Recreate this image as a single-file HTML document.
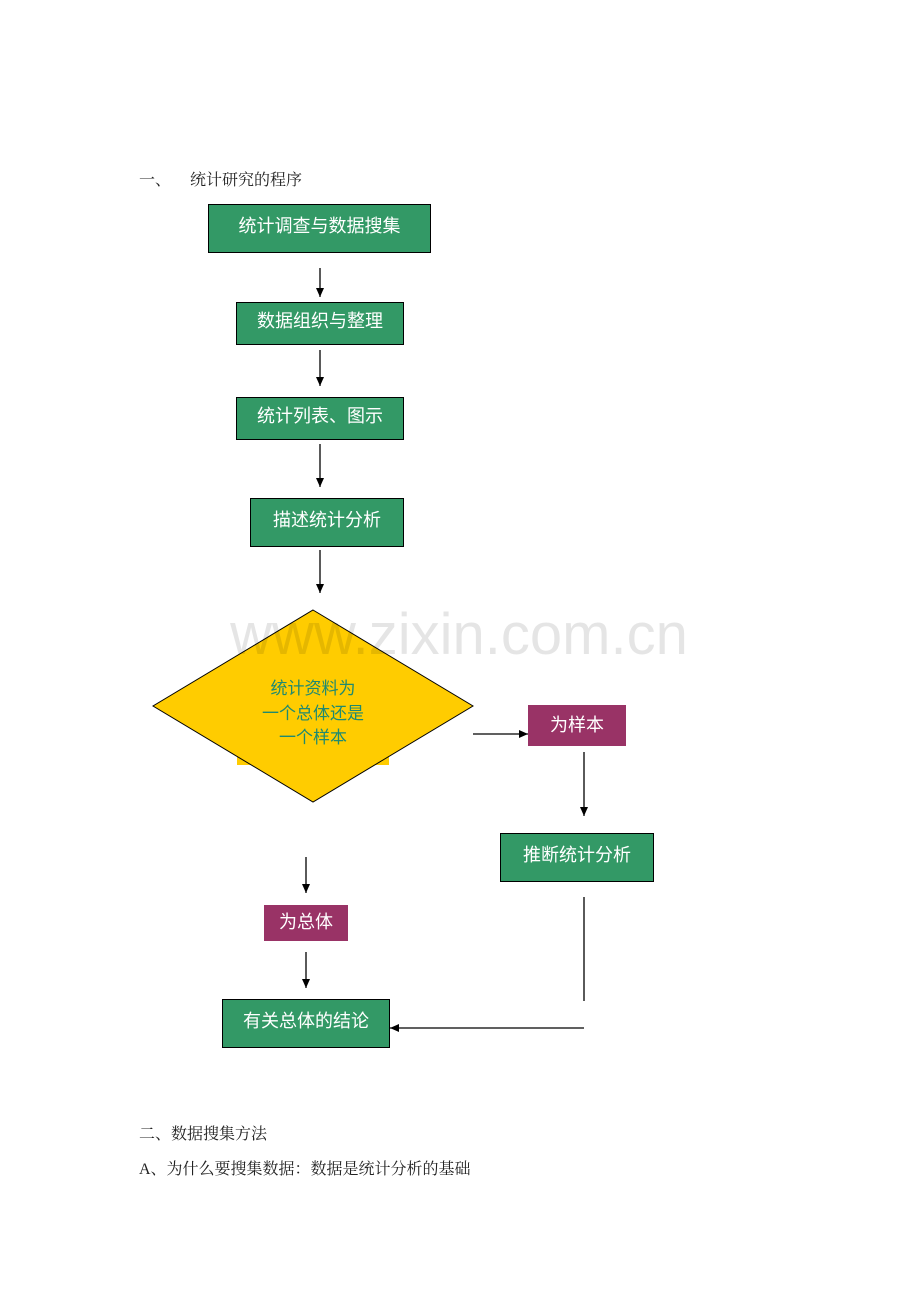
<!DOCTYPE html>
<html><head><meta charset="utf-8"><style>
body{margin:0;width:920px;height:1302px;background:#fff;position:relative;overflow:hidden;font-family:"Liberation Serif","Noto Serif CJK SC",serif;}
.t{position:absolute;font-size:16px;color:#222;white-space:nowrap;}
.b{position:absolute;box-sizing:border-box;border:1px solid #000;background:#339966;color:#fff;font-family:"Liberation Sans","Noto Sans CJK SC",sans-serif;font-size:18px;display:flex;align-items:center;justify-content:center;padding-bottom:7px;}
.p{background:#993366;border:none;padding-bottom:4px;}
</style></head><body>
<div class="t" style="left:139px;top:167px">一、</div>
<div class="t" style="left:190px;top:167px">统计研究的程序</div>
<div class="t" style="left:139px;top:1121px">二、数据搜集方法</div>
<div class="t" style="left:139px;top:1156px">A、为什么要搜集数据：数据是统计分析的基础</div>
<svg width="920" height="1302" style="position:absolute;left:0;top:0">
<defs><marker id="a" markerWidth="10" markerHeight="10" refX="9" refY="5" orient="auto" markerUnits="userSpaceOnUse"><path d="M0,1 L9,5 L0,9 z" fill="#000"/></marker></defs>
<rect x="237" y="748" width="152" height="17" fill="#ffcc00"/>
<polygon points="313,610 473,706 313,802 153,706" fill="#ffcc00" stroke="#000" stroke-width="1"/>
<text x="313" y="694" font-size="17" fill="#1f8a70" text-anchor="middle" font-family="Liberation Sans, Noto Sans CJK SC, sans-serif">统计资料为</text>
<text x="313" y="719" font-size="17" fill="#1f8a70" text-anchor="middle" font-family="Liberation Sans, Noto Sans CJK SC, sans-serif">一个总体还是</text>
<text x="313" y="743" font-size="17" fill="#1f8a70" text-anchor="middle" font-family="Liberation Sans, Noto Sans CJK SC, sans-serif">一个样本</text>
<g stroke="#000" stroke-width="1.3" fill="none">
<line x1="320" y1="268" x2="320" y2="297" marker-end="url(#a)"/>
<line x1="320" y1="350" x2="320" y2="386" marker-end="url(#a)"/>
<line x1="320" y1="444" x2="320" y2="487" marker-end="url(#a)"/>
<line x1="320" y1="550" x2="320" y2="593" marker-end="url(#a)"/>
<line x1="473" y1="734" x2="528" y2="734" marker-end="url(#a)"/>
<line x1="584" y1="752" x2="584" y2="816" marker-end="url(#a)"/>
<line x1="306" y1="857" x2="306" y2="893" marker-end="url(#a)"/>
<line x1="306" y1="952" x2="306" y2="988" marker-end="url(#a)"/>
<line x1="584" y1="897" x2="584" y2="1001"/>
<line x1="584" y1="1028" x2="390" y2="1028" marker-end="url(#a)"/>
</g>
<text x="459" y="654" font-size="58" fill="#000" fill-opacity="0.1" text-anchor="middle" font-family="Liberation Sans, sans-serif">www.zixin.com.cn</text>
</svg>
<div class="b" style="left:208px;top:204px;width:223px;height:49px">统计调查与数据搜集</div>
<div class="b" style="left:236px;top:302px;width:168px;height:43px">数据组织与整理</div>
<div class="b" style="left:236px;top:397px;width:168px;height:43px">统计列表、图示</div>
<div class="b" style="left:250px;top:498px;width:154px;height:49px">描述统计分析</div>
<div class="b p" style="left:528px;top:705px;width:98px;height:41px">为样本</div>
<div class="b" style="left:500px;top:833px;width:154px;height:49px">推断统计分析</div>
<div class="b p" style="left:264px;top:905px;width:84px;height:36px">为总体</div>
<div class="b" style="left:222px;top:999px;width:168px;height:49px">有关总体的结论</div>
</body></html>
